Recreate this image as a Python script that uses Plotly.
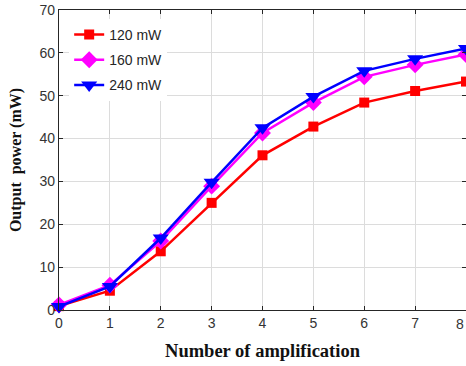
import plotly.graph_objects as go

x_vals = [0, 1, 2, 3, 4, 5, 6, 7, 8]
p120 = [0.9, 4.5, 13.7, 25.0, 36.1, 42.8, 48.4, 51.1, 53.3]
p160 = [1.2, 5.8, 16.1, 28.9, 41.3, 48.4, 54.4, 57.2, 59.6]
p240 = [0.8, 5.5, 16.8, 29.8, 42.5, 49.8, 55.8, 58.6, 61.0]
series_names = ["120 mW", "160 mW", "240 mW"]
colors = ["#ff0000", "#ff00ff", "#0000ff"]
symbols = ["square", "diamond", "triangle-down"]
sizes = [10, 13, 14]
xticks = [0, 1, 2, 3, 4, 5, 6, 7, 8]
yticks = [0, 10, 20, 30, 40, 50, 60, 70]

fig = go.Figure()
for name, ys, c, s, sz in zip(series_names, [p120, p160, p240], colors, symbols, sizes):
    fig.add_trace(go.Scatter(
        x=x_vals, y=ys, name=name, mode="lines+markers", legendgroup=name,
        line=dict(color=c, width=2.5),
        marker=dict(symbol=s, size=sz, color=c, line=dict(width=0)),
        cliponaxis=False,
    ))

tickfont = dict(family="Liberation Sans, Arial", size=14, color="#333333")
axis_common = dict(
    showline=True, linecolor="#262626", linewidth=1.2, mirror="ticks",
    ticks="inside", ticklen=4, tickcolor="#262626", tickwidth=1,
    showgrid=True, gridcolor="#dcdcdc", gridwidth=1, zeroline=False,
    tickfont=tickfont,
)

fig.update_layout(
    width=466, height=366,
    margin=dict(l=59, r=0, t=10, b=56),
    paper_bgcolor="white", plot_bgcolor="white",
    xaxis=dict(range=[0, 8], tickvals=xticks, **axis_common,
               title=dict(text="<b>Number of amplification</b>", standoff=14,
                          font=dict(family="Liberation Serif, Times New Roman", size=18.5, color="#111111"))),
    yaxis=dict(range=[0, 70], tickvals=yticks, **axis_common,
               title=dict(text="<b>Output  power (mW)</b>", standoff=13,
                          font=dict(family="Liberation Serif, Times New Roman", size=16, color="#111111"))),
    legend=dict(x=0.025, y=0.97, xanchor="left", yanchor="top",
                bgcolor="rgba(255,255,255,1)", borderwidth=0,
                font=dict(family="Liberation Sans, Arial", size=14, color="#262626"),
                itemwidth=30, tracegroupgap=4, traceorder="grouped"),
    showlegend=True,
)

# last tick label, kept fully inside the right edge
fig.add_annotation(x=xticks[-1], y=0, xref="x", yref="y", text=str(xticks[-1]),
                   showarrow=False, xanchor="right", yanchor="top", yshift=-4,
                   font=tickfont)

fig.write_html("out.html")
